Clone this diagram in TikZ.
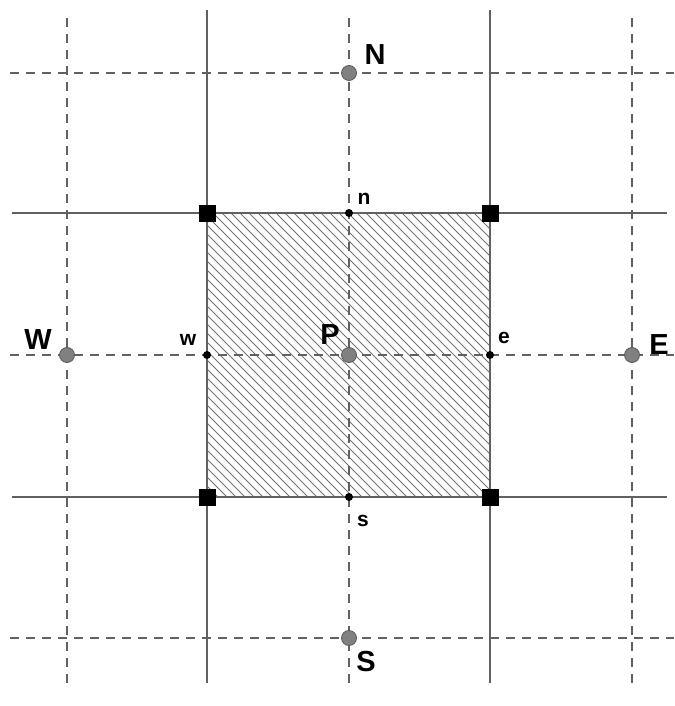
\documentclass[tikz,border=0pt]{standalone}
\usepackage{fontspec}
\setmainfont{Liberation Sans}
\usetikzlibrary{calc}

\begin{document}
\begin{tikzpicture}[
  x=1pt, y=-1pt,
  gridline/.style={draw=black!62, line width=1.8pt},
  dashline/.style={draw=black!62, line width=1.8pt, dash pattern=on 9pt off 7pt},
  hatchline/.style={draw=black!55, line width=0.9pt},
  bignode/.style={circle, fill=black!50, draw=black!65, line width=0.8pt, minimum size=15pt, inner sep=0pt},
  facenode/.style={circle, fill=black, minimum size=8pt, inner sep=0pt},
  corner/.style={rectangle, fill=black, minimum size=17pt, inner sep=0pt},
  capl/.style={font=\fontsize{29}{30}\selectfont\bfseries, inner sep=0pt},
  smalll/.style={font=\fontsize{21}{22}\selectfont\bfseries, inner sep=0pt}
]
\useasboundingbox (0,0) rectangle (674,706);

\coordinate (ctl) at (207,213);
\coordinate (cbr) at (490,497);

\begin{scope}
  \clip (ctl) rectangle (cbr);
  \foreach \i in {-300,-291,...,300}
    \draw[hatchline] (207+\i,213) -- ++(300,300);
\end{scope}

\foreach \x in {207,490}
  \draw[gridline] (\x,10) -- (\x,683);
\foreach \y in {213,497}
  \draw[gridline] (12,\y) -- (667,\y);
\foreach \x in {67,349,632}
  \draw[dashline] (\x,18) -- (\x,690);
\foreach \y in {73,355,638}
  \draw[dashline] (10,\y) -- (674,\y);

\node[bignode] (N) at (349,73) {};
\node[bignode] (W) at (67,355) {};
\node[bignode] (P) at (349,355) {};
\node[bignode] (E) at (632,355) {};
\node[bignode] (S) at (349,638) {};

\node[facenode] (n) at (349,213) {};
\node[facenode] (w) at (207,355) {};
\node[facenode] (e) at (490,355) {};
\node[facenode] (s) at (349,497) {};

\node[corner] (nw) at (207,213) {};
\node[corner] (ne) at (490,213) {};
\node[corner] (sw) at (207,497) {};
\node[corner] (se) at (490,497) {};

\node[capl] (Nlab) at ($(N)+(26,-18)$) {N};
\node[capl] (Wlab) at ($(W)+(-29,-15)$) {W};
\node[capl] (Elab) at ($(E)+(27,-10)$) {E};
\node[capl] (Slab) at ($(S)+(17,24)$) {S};
\node[capl] (Plab) at ($(P)+(-19,-20)$) {P};

\node[smalll] (nlab) at ($(n)+(15,-14)$) {n};
\node[smalll] (wlab) at ($(w)+(-19,-15)$) {w};
\node[smalll] (elab) at ($(e)+(14,-17)$) {e};
\node[smalll] (slab) at ($(s)+(14,24)$) {s};
\end{tikzpicture}
\end{document}
